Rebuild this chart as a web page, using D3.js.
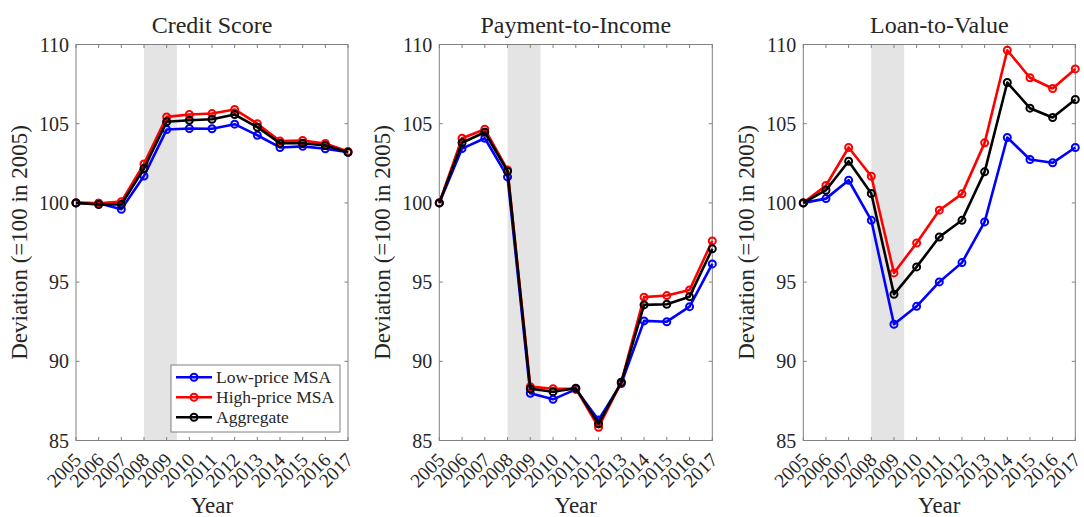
<!DOCTYPE html>
<html><head><meta charset="utf-8">
<script src="https://cdn.jsdelivr.net/npm/d3@7"></script>
<style>
html,body{margin:0;padding:0;background:#fff;}
svg text{font-family:"Liberation Serif","Times New Roman",serif;fill:#262626;}
</style></head>
<body>
<svg id="chart" width="1084" height="517"></svg>
<script>
const years = [2005,2006,2007,2008,2009,2010,2011,2012,2013,2014,2015,2016,2017];
const yTicks = [85,90,95,100,105,110];
const panelTitles = ["Credit Score","Payment-to-Income","Loan-to-Value"];
const seriesNames = ["Low-price MSA","High-price MSA","Aggregate"];
const seriesColors = ["#0000ff","#ff0000","#000000"];
const recession = [2008, 2009.45];

const creditLow  = [100,99.98,99.6,101.7,104.63,104.7,104.68,104.97,104.27,103.5,103.57,103.42,103.2];
const creditHigh = [100,99.98,100.08,102.46,105.43,105.58,105.64,105.9,105.0,103.9,103.94,103.75,103.25];
const creditAgg  = [100,99.9,99.9,102.17,105.12,105.22,105.28,105.58,104.78,103.77,103.77,103.62,103.2];

const ptiLow  = [100,103.43,104.08,101.64,87.98,87.6,88.23,86.3,88.6,92.55,92.5,93.45,96.15];
const ptiHigh = [100,104.08,104.65,102.08,88.4,88.27,88.27,85.84,88.68,94.05,94.15,94.5,97.6];
const ptiAgg  = [100,103.8,104.46,102.0,88.27,88.08,88.3,86.05,88.68,93.56,93.6,94.08,97.1];

const ltvLow  = [100,100.27,101.43,98.9,92.34,93.47,95.01,96.23,98.8,104.13,102.74,102.53,103.5];
const ltvHigh = [100,101.1,103.5,101.68,95.58,97.47,99.54,100.57,103.79,109.64,107.9,107.22,108.46];
const ltvAgg  = [100,100.8,102.63,100.59,94.23,95.96,97.85,98.9,101.96,107.6,105.98,105.39,106.53];

const panels = [
  {title: panelTitles[0], series: [creditLow, creditHigh, creditAgg], left: 76, right: 348, legend: true},
  {title: panelTitles[1], series: [ptiLow, ptiHigh, ptiAgg], left: 439.3, right: 712.3},
  {title: panelTitles[2], series: [ltvLow, ltvHigh, ltvAgg], left: 803.3, right: 1075.3}
];
const plotTop = 44.5, plotBottom = 440.5;
const svg = d3.select("#chart");
const axisColor = "#808080";
const tickLen = 3.5;

panels.forEach(p => {
  const x = d3.scaleLinear().domain([2005,2017]).range([p.left, p.right]);
  const y = d3.scaleLinear().domain([85,110]).range([plotBottom, plotTop]);
  const g = svg.append("g");

  g.append("rect")
    .attr("x", x(recession[0])).attr("y", plotTop)
    .attr("width", x(recession[1]) - x(recession[0]))
    .attr("height", plotBottom - plotTop)
    .attr("fill", "#e4e4e4");

  years.forEach(v => {
    g.append("line").attr("x1", x(v)).attr("x2", x(v)).attr("y1", plotBottom).attr("y2", plotBottom - tickLen).attr("stroke", axisColor);
    g.append("line").attr("x1", x(v)).attr("x2", x(v)).attr("y1", plotTop).attr("y2", plotTop + tickLen).attr("stroke", axisColor);
  });
  yTicks.forEach(v => {
    g.append("line").attr("x1", p.left).attr("x2", p.left + tickLen).attr("y1", y(v)).attr("y2", y(v)).attr("stroke", axisColor);
    g.append("line").attr("x1", p.right).attr("x2", p.right - tickLen).attr("y1", y(v)).attr("y2", y(v)).attr("stroke", axisColor);
  });

  g.append("rect").attr("x", p.left).attr("y", plotTop)
    .attr("width", p.right - p.left).attr("height", plotBottom - plotTop)
    .attr("fill", "none").attr("stroke", axisColor).attr("stroke-width", 1);

  g.selectAll(".ytl").data(yTicks).enter().append("text")
    .attr("x", p.left - 7).attr("y", d => y(d)).attr("dy", "0.35em")
    .attr("text-anchor", "end").style("font-size", "20px").text(d => d);

  g.selectAll(".xtl").data(years).enter().append("text")
    .attr("transform", d => `translate(${x(d) + 6.5},${plotBottom + 20.5}) rotate(-45)`)
    .attr("text-anchor", "end").style("font-size", "19.5px").text(d => d);

  g.append("text").attr("x", (p.left + p.right) / 2).attr("y", 32.5)
    .attr("text-anchor", "middle").style("font-size", "24px").text(p.title);

  g.append("text").attr("x", (p.left + p.right) / 2).attr("y", 513)
    .attr("text-anchor", "middle").style("font-size", "23px").text("Year");

  g.append("text")
    .attr("transform", `translate(${p.left - 49},${(plotTop + plotBottom) / 2}) rotate(-90)`)
    .attr("text-anchor", "middle").style("font-size", "23px").text("Deviation (=100 in 2005)");

  const line = d3.line().x((d, i) => x(years[i])).y(d => y(d));
  p.series.forEach((s, k) => {
    g.append("path").datum(s).attr("d", line)
      .attr("fill", "none").attr("stroke", seriesColors[k])
      .attr("stroke-width", 2.6).attr("stroke-linejoin", "round");
    g.selectAll(null).data(s).enter().append("circle")
      .attr("cx", (d, i) => x(years[i])).attr("cy", d => y(d))
      .attr("r", 3.5).attr("fill", "none")
      .attr("stroke", seriesColors[k]).attr("stroke-width", 2);
  });

  if (p.legend) {
    const lg = g.append("g");
    lg.append("rect").attr("x", 171).attr("y", 365).attr("width", 169).attr("height", 67)
      .attr("fill", "#fff").attr("stroke", axisColor).attr("stroke-width", 1);
    seriesNames.forEach((n, k) => {
      const yy = 377.3 + k * 20;
      lg.append("line").attr("x1", 176).attr("x2", 212).attr("y1", yy).attr("y2", yy)
        .attr("stroke", seriesColors[k]).attr("stroke-width", 2.6);
      lg.append("circle").attr("cx", 194).attr("cy", yy).attr("r", 3.5)
        .attr("fill", "none").attr("stroke", seriesColors[k]).attr("stroke-width", 2);
      lg.append("text").attr("x", 216).attr("y", yy).attr("dy", "0.35em")
        .style("font-size", "17.5px").text(n);
    });
  }
});
</script>
</body></html>
